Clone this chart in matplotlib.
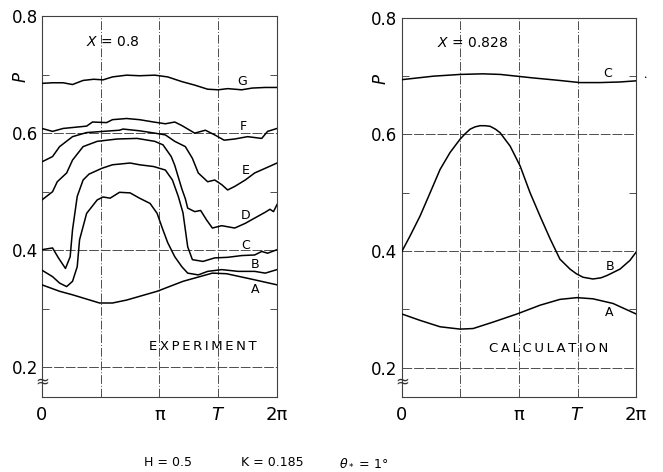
import numpy as np
import matplotlib.pyplot as plt

# phase in units of pi, pressure P
g_x = [0, 0.09, 0.18, 0.26, 0.35, 0.44, 0.52, 0.60, 0.72, 0.83, 0.96, 1.07, 1.19, 1.30, 1.41, 1.50, 1.58, 1.70, 1.79, 1.90, 2.0]
g_y = [0.685, 0.686, 0.686, 0.683, 0.690, 0.692, 0.691, 0.696, 0.699, 0.698, 0.699, 0.696, 0.688, 0.682, 0.675, 0.674, 0.676, 0.674, 0.677, 0.678, 0.678]

f_x = [0, 0.09, 0.18, 0.38, 0.43, 0.55, 0.60, 0.72, 0.83, 0.95, 1.05, 1.13, 1.19, 1.30, 1.39, 1.47, 1.55, 1.64, 1.75, 1.87, 1.92, 2.0]
f_y = [0.608, 0.603, 0.608, 0.612, 0.619, 0.618, 0.623, 0.625, 0.623, 0.619, 0.616, 0.619, 0.613, 0.600, 0.605, 0.597, 0.588, 0.590, 0.594, 0.591, 0.603, 0.608]

e_x = [0, 0.09, 0.15, 0.26, 0.38, 0.52, 0.66, 0.69, 0.83, 0.96, 1.05, 1.13, 1.22, 1.28, 1.33, 1.41, 1.47, 1.53, 1.58, 1.64, 1.73, 1.81, 1.90, 2.0]
e_y = [0.551, 0.560, 0.577, 0.594, 0.601, 0.603, 0.605, 0.607, 0.604, 0.600, 0.597, 0.586, 0.577, 0.557, 0.532, 0.517, 0.520, 0.512, 0.503, 0.509, 0.520, 0.532, 0.540, 0.549]

d_x = [0, 0.09, 0.13, 0.21, 0.26, 0.35, 0.47, 0.64, 0.81, 0.96, 1.03, 1.10, 1.13, 1.16, 1.19, 1.22, 1.24, 1.30, 1.35, 1.40, 1.45, 1.53, 1.64, 1.73, 1.81, 1.90, 1.94, 1.97, 2.0]
d_y = [0.486, 0.500, 0.517, 0.532, 0.554, 0.577, 0.586, 0.590, 0.591, 0.586, 0.580, 0.560, 0.545, 0.525, 0.505, 0.488, 0.472, 0.466, 0.468, 0.452, 0.438, 0.442, 0.438, 0.446, 0.455, 0.465, 0.470, 0.466, 0.478]

c_x = [0, 0.09, 0.14, 0.20, 0.24, 0.26, 0.30, 0.35, 0.40, 0.51, 0.60, 0.75, 0.83, 0.95, 1.05, 1.11, 1.16, 1.20, 1.24, 1.28, 1.37, 1.47, 1.58, 1.70, 1.81, 1.87, 1.92, 2.0]
c_y = [0.401, 0.404, 0.387, 0.369, 0.389, 0.435, 0.492, 0.520, 0.530, 0.540, 0.546, 0.549, 0.546, 0.543, 0.537, 0.520, 0.492, 0.464, 0.406, 0.384, 0.381, 0.387, 0.388, 0.391, 0.392, 0.398, 0.395, 0.401]

b_x = [0, 0.09, 0.15, 0.21, 0.26, 0.30, 0.32, 0.38, 0.47, 0.52, 0.58, 0.66, 0.75, 0.83, 0.92, 0.98, 1.02, 1.07, 1.13, 1.19, 1.24, 1.33, 1.41, 1.53, 1.67, 1.81, 1.90, 2.0]
b_y = [0.366, 0.355, 0.344, 0.338, 0.347, 0.372, 0.418, 0.463, 0.486, 0.491, 0.489, 0.499, 0.498, 0.489, 0.480, 0.463, 0.440, 0.413, 0.389, 0.372, 0.361, 0.358, 0.364, 0.367, 0.364, 0.364, 0.361, 0.367]

a_x = [0, 0.15, 0.26, 0.49, 0.60, 0.72, 0.98, 1.20, 1.45, 1.57, 1.80, 2.0]
a_y = [0.341, 0.330, 0.324, 0.310, 0.310, 0.315, 0.330, 0.347, 0.361, 0.360, 0.350, 0.341]

# calculated curves
cc_x = [0, 0.27, 0.50, 0.69, 0.84, 1.12, 1.33, 1.52, 1.69, 1.86, 2.0]
cc_y = [0.694, 0.700, 0.703, 0.704, 0.703, 0.697, 0.693, 0.689, 0.689, 0.690, 0.692]

cb_x = [0, 0.071, 0.156, 0.242, 0.327, 0.412, 0.498, 0.54, 0.583, 0.625, 0.668, 0.71, 0.754, 0.80, 0.839, 0.925, 1.01, 1.095, 1.18, 1.266, 1.35, 1.436, 1.49, 1.547, 1.632, 1.70, 1.752, 1.863, 1.948, 2.0]
cb_y = [0.399, 0.426, 0.460, 0.500, 0.540, 0.569, 0.592, 0.601, 0.609, 0.613, 0.615, 0.615, 0.614, 0.609, 0.603, 0.580, 0.546, 0.500, 0.460, 0.421, 0.386, 0.369, 0.361, 0.355, 0.352, 0.354, 0.358, 0.369, 0.384, 0.398]

ca_x = [0, 0.156, 0.327, 0.498, 0.609, 0.779, 0.984, 1.18, 1.35, 1.495, 1.632, 1.803, 2.0]
ca_y = [0.292, 0.281, 0.270, 0.266, 0.267, 0.278, 0.292, 0.307, 0.317, 0.320, 0.318, 0.310, 0.292]

exp_curves = [(g_x, g_y, 'G', 1.70, 0.689), (f_x, f_y, 'F', 1.71, 0.611),
              (e_x, e_y, 'E', 1.73, 0.536), (d_x, d_y, 'D', 1.73, 0.459),
              (c_x, c_y, 'C', 1.73, 0.409), (b_x, b_y, 'B', 1.81, 0.375),
              (a_x, a_y, 'A', 1.81, 0.333)]
calc_curves = [(cc_x, cc_y, 'C', 1.76, 0.704), (cb_x, cb_y, 'B', 1.78, 0.374),
               (ca_x, ca_y, 'A', 1.77, 0.294)]

xtick_pos = [0, 0.5, 1.0, 1.5, 2.0]
xtick_lab = ['0', '', 'π', '$T$', '2π']
ytick_pos = [0.2, 0.4, 0.6, 0.8]

plt.rcParams['font.family'] = ['DejaVu Sans']

fig = plt.figure(figsize=(6.63, 4.72), dpi=100)
ax1 = fig.add_axes([0.0633, 0.1595, 0.3545, 0.8066])
ax2 = fig.add_axes([0.606, 0.1595, 0.3534, 0.8026])


def setup(ax, label):
    ax.set_xlim(0, 2 * np.pi)
    ax.set_ylim(0.15, 0.8)
    for v in [0.5, 1.0, 1.5]:
        ax.axvline(v * np.pi, color='0.3', lw=0.7, ls=(0, (9, 2, 1, 2)), zorder=1)
    for v in [0.2, 0.4, 0.6]:
        ax.axhline(v, color='0.3', lw=0.7, ls=(0, (10, 2)), zorder=1)
    ax.set_xticks([p * np.pi for p in xtick_pos])
    ax.set_xticklabels(xtick_lab, fontsize=13)
    ax.set_yticks(ytick_pos)
    ax.set_yticklabels(['0.2', '0.4', '0.6', '0.8'], fontsize=12)
    ax.set_yticks([0.3, 0.5, 0.7], minor=True)
    ax.tick_params(axis='x', length=0, pad=7)
    ax.tick_params(axis='y', which='major', length=0, pad=3)
    ax.tick_params(axis='y', which='minor', direction='in', length=5,
                   left=True, right=True, color='0.3', width=0.7)
    for s in ax.spines.values():
        s.set_color('0.25')
        s.set_linewidth(0.8)
    ax.text(-0.09, 0.84, 'P', style='italic', rotation=90, fontsize=12,
            transform=ax.transAxes, ha='center', va='center')
    ax.text(0.30, 0.933, label, fontsize=10, transform=ax.transAxes,
            ha='center', va='center')
    # axis break mark below 0.2
    ax.text(0, 0.176, '≈', fontsize=12, ha='center', va='center',
            clip_on=False, color='0.2', zorder=5)


setup(ax1, '$X$ = 0.8')
setup(ax2, '$X$ = 0.828')

for xs, ys, name, lx, ly in exp_curves:
    ax1.plot(np.array(xs) * np.pi, ys, color='black', lw=1.1, zorder=3)
    ax1.text(lx * np.pi, ly, name, fontsize=9, ha='center', va='center')

for xs, ys, name, lx, ly in calc_curves:
    ax2.plot(np.array(xs) * np.pi, ys, color='black', lw=1.1, zorder=3)
    ax2.text(lx * np.pi, ly, name, fontsize=9, ha='center', va='center')

ax1.text(1.366 * np.pi, 0.236, '\u2009'.join('EXPERIMENT'), fontsize=9.5,
         ha='center', va='center')
ax2.text(1.257 * np.pi, 0.233, '\u2009'.join('CALCULATION'), fontsize=9.5,
         ha='center', va='center')

fig.text(168 / 663, 1 - 463 / 472, 'H = 0.5', fontsize=9, ha='center', va='center')
fig.text(272 / 663, 1 - 463 / 472, 'K = 0.185', fontsize=9, ha='center', va='center')
fig.text(364 / 663, 1 - 463 / 472, r'$\theta_*$ = 1°', fontsize=9, ha='center', va='center')
fig.text(645 / 663, 1 - 78 / 472, '•', fontsize=4, ha='center', va='center')

fig.savefig('out.png', dpi=100)
